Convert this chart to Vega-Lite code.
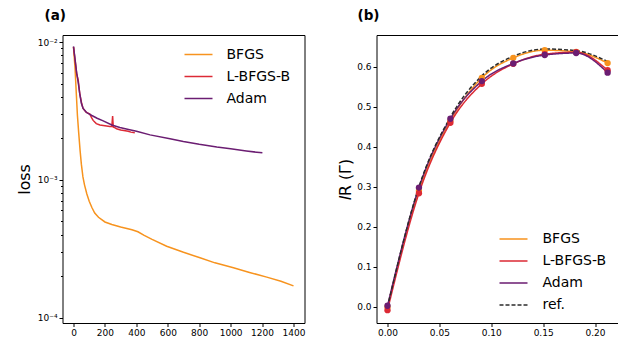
{
  "$schema": "https://vega.github.io/schema/vega-lite/v6.json",
  "padding": {"left": 15.5, "top": 8, "right": 0, "bottom": 0},
  "background": "white",
  "spacing": 72,
  "bounds": "flush",
  "resolve": {"scale": {"color": "independent", "strokeDash": "independent", "strokeWidth": "independent", "x": "independent", "y": "independent"}, "legend": {"color": "independent", "strokeDash": "independent"}},
  "config": {
    "font": "DejaVu Sans",
    "view": {"stroke": "black", "strokeWidth": 1},
    "axis": {"grid": false, "domain": false, "tickColor": "black", "labelColor": "black", "labelFont": "DejaVu Sans", "labelFontSize": 9, "titleFont": "DejaVu Sans", "titleFontSize": 15.8, "titleFontWeight": "normal", "titleColor": "black", "tickSize": 3.5, "labelPadding": 2},
    "legend": {"labelFont": "DejaVu Sans", "labelFontSize": 14, "labelColor": "black", "symbolType": "stroke", "symbolSize": 784, "symbolStrokeWidth": 1.5, "labelOffset": 13, "padding": 0, "rowPadding": -10, "titlePadding": 0}
  },
  "datasets": {
    "loss": [
      {"method": "BFGS", "epoch": 0, "loss": 0.0092},
      {"method": "BFGS", "epoch": 5, "loss": 0.0077},
      {"method": "BFGS", "epoch": 10, "loss": 0.0064},
      {"method": "BFGS", "epoch": 18, "loss": 0.0042},
      {"method": "BFGS", "epoch": 25, "loss": 0.00293},
      {"method": "BFGS", "epoch": 33, "loss": 0.0022},
      {"method": "BFGS", "epoch": 42, "loss": 0.00163},
      {"method": "BFGS", "epoch": 50, "loss": 0.0013},
      {"method": "BFGS", "epoch": 60, "loss": 0.00105},
      {"method": "BFGS", "epoch": 70, "loss": 0.00092},
      {"method": "BFGS", "epoch": 85, "loss": 0.00079},
      {"method": "BFGS", "epoch": 100, "loss": 0.0007},
      {"method": "BFGS", "epoch": 117, "loss": 0.00063},
      {"method": "BFGS", "epoch": 135, "loss": 0.000575},
      {"method": "BFGS", "epoch": 159, "loss": 0.000535},
      {"method": "BFGS", "epoch": 200, "loss": 0.000495},
      {"method": "BFGS", "epoch": 244, "loss": 0.000475},
      {"method": "BFGS", "epoch": 300, "loss": 0.000455},
      {"method": "BFGS", "epoch": 372, "loss": 0.000435},
      {"method": "BFGS", "epoch": 410, "loss": 0.00042},
      {"method": "BFGS", "epoch": 450, "loss": 0.000395},
      {"method": "BFGS", "epoch": 500, "loss": 0.00037},
      {"method": "BFGS", "epoch": 593, "loss": 0.00033},
      {"method": "BFGS", "epoch": 700, "loss": 0.000298},
      {"method": "BFGS", "epoch": 805, "loss": 0.000272},
      {"method": "BFGS", "epoch": 900, "loss": 0.00025},
      {"method": "BFGS", "epoch": 1018, "loss": 0.00023},
      {"method": "BFGS", "epoch": 1120, "loss": 0.000213},
      {"method": "BFGS", "epoch": 1230, "loss": 0.000197},
      {"method": "BFGS", "epoch": 1320, "loss": 0.000184},
      {"method": "BFGS", "epoch": 1400, "loss": 0.00017},
      {"method": "L-BFGS-B", "epoch": 0, "loss": 0.0092},
      {"method": "L-BFGS-B", "epoch": 10, "loss": 0.0074},
      {"method": "L-BFGS-B", "epoch": 20, "loss": 0.0059},
      {"method": "L-BFGS-B", "epoch": 30, "loss": 0.0053},
      {"method": "L-BFGS-B", "epoch": 40, "loss": 0.0042},
      {"method": "L-BFGS-B", "epoch": 53, "loss": 0.00355},
      {"method": "L-BFGS-B", "epoch": 61, "loss": 0.0033},
      {"method": "L-BFGS-B", "epoch": 80, "loss": 0.0031},
      {"method": "L-BFGS-B", "epoch": 104, "loss": 0.003},
      {"method": "L-BFGS-B", "epoch": 115, "loss": 0.00283},
      {"method": "L-BFGS-B", "epoch": 125, "loss": 0.0027},
      {"method": "L-BFGS-B", "epoch": 145, "loss": 0.00256},
      {"method": "L-BFGS-B", "epoch": 168, "loss": 0.0025},
      {"method": "L-BFGS-B", "epoch": 200, "loss": 0.00247},
      {"method": "L-BFGS-B", "epoch": 231, "loss": 0.00244},
      {"method": "L-BFGS-B", "epoch": 244, "loss": 0.00245},
      {"method": "L-BFGS-B", "epoch": 249, "loss": 0.0029},
      {"method": "L-BFGS-B", "epoch": 253, "loss": 0.00242},
      {"method": "L-BFGS-B", "epoch": 260, "loss": 0.0024},
      {"method": "L-BFGS-B", "epoch": 274, "loss": 0.00235},
      {"method": "L-BFGS-B", "epoch": 300, "loss": 0.0023},
      {"method": "L-BFGS-B", "epoch": 320, "loss": 0.00228},
      {"method": "L-BFGS-B", "epoch": 348, "loss": 0.00225},
      {"method": "L-BFGS-B", "epoch": 365, "loss": 0.00222},
      {"method": "L-BFGS-B", "epoch": 390, "loss": 0.0022},
      {"method": "Adam", "epoch": 0, "loss": 0.0093},
      {"method": "Adam", "epoch": 10, "loss": 0.0075},
      {"method": "Adam", "epoch": 20, "loss": 0.006},
      {"method": "Adam", "epoch": 30, "loss": 0.0051},
      {"method": "Adam", "epoch": 40, "loss": 0.0042},
      {"method": "Adam", "epoch": 50, "loss": 0.0036},
      {"method": "Adam", "epoch": 61, "loss": 0.0033},
      {"method": "Adam", "epoch": 83, "loss": 0.00308},
      {"method": "Adam", "epoch": 117, "loss": 0.00293},
      {"method": "Adam", "epoch": 150, "loss": 0.0028},
      {"method": "Adam", "epoch": 189, "loss": 0.00268},
      {"method": "Adam", "epoch": 244, "loss": 0.0025},
      {"method": "Adam", "epoch": 295, "loss": 0.0024},
      {"method": "Adam", "epoch": 350, "loss": 0.00232},
      {"method": "Adam", "epoch": 401, "loss": 0.00225},
      {"method": "Adam", "epoch": 487, "loss": 0.00212},
      {"method": "Adam", "epoch": 614, "loss": 0.00199},
      {"method": "Adam", "epoch": 699, "loss": 0.0019},
      {"method": "Adam", "epoch": 800, "loss": 0.00181},
      {"method": "Adam", "epoch": 912, "loss": 0.00173},
      {"method": "Adam", "epoch": 1000, "loss": 0.00168},
      {"method": "Adam", "epoch": 1100, "loss": 0.00162},
      {"method": "Adam", "epoch": 1202, "loss": 0.00157}
    ],
    "ir": [
      {"method": "BFGS", "t": 0.0, "IR": 0.0},
      {"method": "BFGS", "t": 0.0303, "IR": 0.29},
      {"method": "BFGS", "t": 0.0606, "IR": 0.465},
      {"method": "BFGS", "t": 0.0909, "IR": 0.572},
      {"method": "BFGS", "t": 0.1212, "IR": 0.622},
      {"method": "BFGS", "t": 0.1515, "IR": 0.641},
      {"method": "BFGS", "t": 0.1818, "IR": 0.637},
      {"method": "BFGS", "t": 0.2121, "IR": 0.609},
      {"method": "L-BFGS-B", "t": 0.0, "IR": -0.008},
      {"method": "L-BFGS-B", "t": 0.0303, "IR": 0.284},
      {"method": "L-BFGS-B", "t": 0.0606, "IR": 0.46},
      {"method": "L-BFGS-B", "t": 0.0909, "IR": 0.557},
      {"method": "L-BFGS-B", "t": 0.1212, "IR": 0.607},
      {"method": "L-BFGS-B", "t": 0.1515, "IR": 0.631},
      {"method": "L-BFGS-B", "t": 0.1818, "IR": 0.636},
      {"method": "L-BFGS-B", "t": 0.2121, "IR": 0.591},
      {"method": "Adam", "t": 0.0, "IR": 0.003},
      {"method": "Adam", "t": 0.0303, "IR": 0.298},
      {"method": "Adam", "t": 0.0606, "IR": 0.47},
      {"method": "Adam", "t": 0.0909, "IR": 0.564},
      {"method": "Adam", "t": 0.1212, "IR": 0.608},
      {"method": "Adam", "t": 0.1515, "IR": 0.629},
      {"method": "Adam", "t": 0.1818, "IR": 0.634},
      {"method": "Adam", "t": 0.2121, "IR": 0.585},
      {"method": "ref.", "t": 0.0, "IR": 0.0},
      {"method": "ref.", "t": 0.0303, "IR": 0.3},
      {"method": "ref.", "t": 0.0606, "IR": 0.474},
      {"method": "ref.", "t": 0.0909, "IR": 0.577},
      {"method": "ref.", "t": 0.1212, "IR": 0.626},
      {"method": "ref.", "t": 0.1515, "IR": 0.644},
      {"method": "ref.", "t": 0.1818, "IR": 0.64},
      {"method": "ref.", "t": 0.2121, "IR": 0.613}
    ]
  },
  "hconcat": [
    {
      "width": 242,
      "height": 288,
      "title": {"text": "(a)", "anchor": "start", "frame": "group", "dx": -18, "offset": 2, "baseline": "alphabetic", "fontSize": 13.5, "fontWeight": "bold", "font": "DejaVu Sans", "color": "black"},
      "data": {"name": "loss"},
      "mark": {"type": "line", "strokeWidth": 1.5, "clip": true},
      "encoding": {
        "x": {"field": "epoch", "type": "quantitative", "scale": {"domain": [-70, 1470], "nice": false, "zero": false},
          "axis": {"values": [0, 200, 400, 600, 800, 1000, 1200, 1400], "format": "d", "title": "epoch", "titleY": 319.7, "titleBaseline": "alphabetic"}},
        "y": {"field": "loss", "type": "quantitative", "scale": {"type": "log", "domain": [0.0000915, 0.01125], "nice": false},
          "axis": {"values": [0.0001, 0.0002, 0.0003, 0.0004, 0.0005, 0.0006, 0.0007, 0.0008, 0.0009, 0.001, 0.002, 0.003, 0.004, 0.005, 0.006, 0.007, 0.008, 0.009, 0.01],
            "labelExpr": "abs(log(datum.value)/LN10 - round(log(datum.value)/LN10)) < 0.001 ? ('10⁻' + (round(-log(datum.value)/LN10) == 2 ? '²' : round(-log(datum.value)/LN10) == 3 ? '³' : '⁴')) : ''",
            "tickSize": {"condition": {"test": "abs(log(datum.value)/LN10 - round(log(datum.value)/LN10)) < 0.001", "value": 3.5}, "value": 2},
            "title": "loss", "titleX": -33, "titleY": 144, "titleAngle": 270, "titleBaseline": "alphabetic", "titleAlign": "center"}},
        "color": {"field": "method", "type": "nominal",
          "scale": {"domain": ["BFGS", "L-BFGS-B", "Adam"], "range": ["#f7931e", "#dc2a35", "#6b1d72"]},
          "legend": {"title": null, "orient": "none", "legendX": 121, "legendY": 4.5}}
      }
    },
    {
      "width": 242,
      "height": 288,
      "title": {"text": "(b)", "anchor": "start", "frame": "group", "dx": -19, "offset": 2, "baseline": "alphabetic", "fontSize": 13.5, "fontWeight": "bold", "font": "DejaVu Sans", "color": "black"},
      "data": {"name": "ir"},
      "layer": [
        {
          "mark": {"type": "line", "interpolate": "monotone"},
          "encoding": {
            "x": {"field": "t", "type": "quantitative", "scale": {"domain": [-0.0106, 0.2226], "nice": false, "zero": false},
              "axis": {"values": [0, 0.05, 0.1, 0.15, 0.2], "format": ".2f", "title": "𝑡 (1/Γ)", "titleY": 319.7, "titleBaseline": "alphabetic"}},
            "y": {"field": "IR", "type": "quantitative", "scale": {"domain": [-0.04, 0.679], "nice": false, "zero": false},
              "axis": {"values": [0, 0.1, 0.2, 0.3, 0.4, 0.5, 0.6], "format": ".1f", "title": "𝐼R (Γ)", "titleX": -26, "titleY": 144, "titleAngle": 270, "titleBaseline": "alphabetic", "titleAlign": "center"}},
            "color": {"field": "method", "type": "nominal",
              "scale": {"domain": ["BFGS", "L-BFGS-B", "Adam", "ref."], "range": ["#f7931e", "#dc2a35", "#6b1d72", "#2b2b2b"]},
              "legend": {"title": null, "orient": "none", "legendX": 122, "legendY": 189, "rowPadding": -11, "labelOffset": 14}},
            "strokeDash": {"field": "method", "type": "nominal",
              "scale": {"domain": ["BFGS", "L-BFGS-B", "Adam", "ref."], "range": [[1, 0], [1, 0], [1, 0], [4, 2]]},
              "legend": {"title": null, "orient": "none", "legendX": 122, "legendY": 189, "rowPadding": -11, "labelOffset": 14}},
            "strokeWidth": {"field": "method", "type": "nominal",
              "scale": {"domain": ["BFGS", "L-BFGS-B", "Adam", "ref."], "range": [1.5, 1.5, 1.5, 1]}, "legend": null}
          }
        },
        {
          "transform": [{"filter": "datum.method != 'ref.'"}],
          "mark": {"type": "circle", "size": 40, "opacity": 1},
          "encoding": {
            "x": {"field": "t", "type": "quantitative"},
            "y": {"field": "IR", "type": "quantitative"},
            "color": {"field": "method", "type": "nominal", "legend": null}
          }
        }
      ]
    }
  ]
}
